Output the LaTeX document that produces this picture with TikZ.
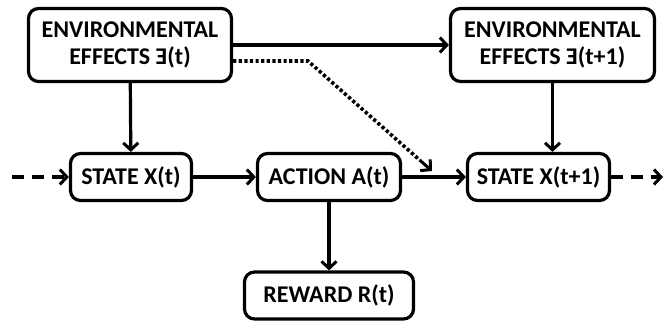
\documentclass[tikz,border=0pt]{standalone}
\usepackage{fontspec}
\setmainfont{Carlito}
\usetikzlibrary{arrows.meta, positioning, calc}

\begin{document}
\begin{tikzpicture}[x=1pt, y=-1pt,
        box/.style={draw, line width=3.2pt, rounded corners=10pt, align=center,
            font=\bfseries\fontsize{24}{27}\selectfont, inner sep=0pt},
        arr/.style={line width=3.2pt, -{Straight Barb[length=7pt, width=15pt, line width=3pt]}}]
        \useasboundingbox (0,0) rectangle (664,322);
        % nodes
        \node[box, minimum width=203pt, minimum height=73pt] (envt) at (130,45) {ENVIRONMENTAL\\EFFECTS Ǝ(t)};
        \node[box, minimum width=204pt, minimum height=73pt] (envtt) at (552.5,45) {ENVIRONMENTAL\\EFFECTS Ǝ(t+1)};
        \node[box, minimum width=121pt, minimum height=47pt] (statet) at (131,177) {STATE X(t)};
        \node[box, minimum width=143pt, minimum height=47pt] (action) at (329,177) {ACTION A(t)};
        \node[box, minimum width=142pt, minimum height=47pt] (statett) at (538.5,177) {STATE X(t+1)};
        \node[box, minimum width=169pt, minimum height=47pt] (reward) at (329,295.5) {REWARD R(t)};
        \coordinate (din) at (12,177);
        \coordinate (dout) at (663,177);
        \coordinate (bend) at (308,61);
        \coordinate (tip) at (432,171);
        \coordinate (pretip) at ($(bend)!0.9!(tip)$);
        % connectors
        \draw[arr] (envt) -- (envtt);
        \draw[arr] (envt) -- (statet);
        \draw[arr] (envtt.south) -- (envtt.south |- statet.north);
        \draw[arr] (statet) -- (action);
        \draw[arr] (action) -- (statett);
        \draw[arr] (action) -- (reward);
        \draw[arr, dash pattern=on 12pt off 8pt] (din) -- (statet);
        \draw[arr, dash pattern=on 12pt off 8pt] (statett) -- (dout);
        % dotted link, solid tip
        \draw[line width=3.6pt, dash pattern=on 3.2pt off 2.4pt] ([yshift=-16pt]envt.east) -- (bend) -- (pretip);
        \draw[arr, line width=3pt] (pretip) -- (tip);
    \end{tikzpicture}
\end{document}
